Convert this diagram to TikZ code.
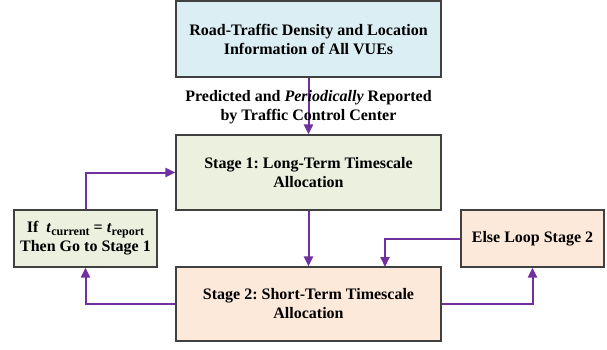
\documentclass[tikz,border=0pt]{standalone}
\usepackage{fontspec}
\setmainfont{Liberation Serif}
\usetikzlibrary{arrows.meta}
\frenchspacing

\definecolor{infoblue}{RGB}{219,238,243}
\definecolor{stagegreen}{RGB}{235,241,222}
\definecolor{stageorange}{RGB}{253,233,217}
\definecolor{flowpurple}{RGB}{112,48,160}

\begin{document}
\begin{tikzpicture}[x=1pt,y=-1pt]
		
		\tikzset{box/.style = {shape=rectangle,draw=black!75,line width=1.2pt,align=center,
				font=\fontsize{16}{19}\selectfont\bfseries,inner sep=2pt}}
		\tikzset{bigbox/.style = {box,minimum width=265pt,minimum height=75pt}}
		\tikzset{sidebox/.style = {box,minimum width=143pt,minimum height=57pt}}
		\tikzset{edge/.style = {-{Triangle[length=10pt,width=9pt]},draw=flowpurple,line width=2pt}}
		\useasboundingbox (0,0) rectangle (607,349);
		% boxes
		\node[bigbox,fill=infoblue,minimum height=76pt] (info) at (308.5,39) {Road-Traffic Density and Location\\Information of All VUEs};
		\node[bigbox,fill=stagegreen] (stage1) at (308.5,172.5) {Stage 1: Long-Term Timescale\\Allocation};
		\node[bigbox,fill=stageorange,minimum height=74pt] (stage2) at (308.5,304) {Stage 2: Short-Term Timescale\\Allocation};
		\node[sidebox,fill=stagegreen] (check) at (85.5,238.5) {If\ \ \textit{t}\raisebox{-0.35ex}{\fontsize{12}{12}\selectfont current} = \textit{t}\raisebox{-0.35ex}{\fontsize{12}{12}\selectfont report}\\Then Go to Stage 1};
		\node[sidebox,fill=stageorange] (loop) at (532.5,238.5) {Else Loop Stage 2};
		\coordinate (s2top) at (385,267);
		%edges
		\draw[edge] (info) -- (stage1);
		\node[font=\fontsize{16}{19}\selectfont\bfseries,align=center] (report) at (308.5,107) {Predicted and \textit{Periodically} Reported\\by Traffic Control Center};
		\draw[edge] (stage1) -- (stage2);
		\draw[edge] (stage2.west) -| (check.south);
		\draw[edge] (check.north) |- (stage1.west);
		\draw[edge] (stage2.east) -| (loop.south);
		\draw[edge] (loop.west) -| (s2top);
		\end{tikzpicture}
\end{document}
